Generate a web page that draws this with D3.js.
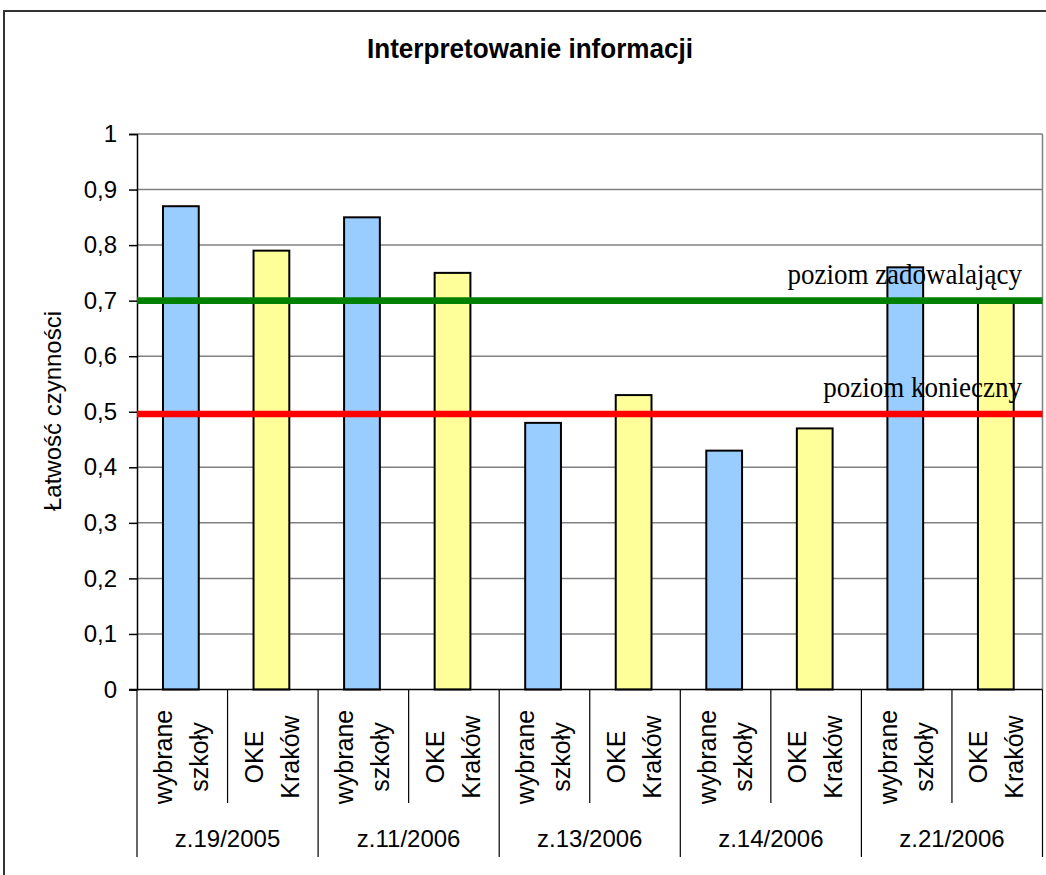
<!DOCTYPE html>
<html>
<head>
<meta charset="utf-8">
<script src="https://cdn.jsdelivr.net/npm/d3@7"></script>
<style>
  html, body { margin: 0; padding: 0; background: #ffffff; }
  svg { display: block; }
</style>
</head>
<body>
<div id="chart"></div>
<script>
// Test groups and the two compared populations
const groups = ["z.19/2005", "z.11/2006", "z.13/2006", "z.14/2006", "z.21/2006"];
const seriesLabels = [["wybrane", "szkoły"], ["OKE", "Kraków"]];
const wybraneSzkoly = [0.87, 0.85, 0.48, 0.43, 0.76];
const okeKrakow = [0.79, 0.75, 0.53, 0.47, 0.70];

// Reference levels
const levelNames = ["poziom zadowalający", "poziom konieczny"];
const levelValues = [0.7, 0.496];
const levelColors = ["#008000", "#ff0000"];

// Value axis
const yTicks = [0, 0.1, 0.2, 0.3, 0.4, 0.5, 0.6, 0.7, 0.8, 0.9, 1];
const yTickLabels = ["0", "0,1", "0,2", "0,3", "0,4", "0,5", "0,6", "0,7", "0,8", "0,9", "1"];

const title = "Interpretowanie informacji";
const yTitle = "Łatwość czynności";

const W = 1046, H = 875;
const plot = { left: 137, right: 1042.5, top: 134, bottom: 689.5 };

const svg = d3.select("#chart").append("svg")
  .attr("width", W).attr("height", H)
  .attr("font-family", "Arial, 'Liberation Sans', sans-serif");

// chart frame
svg.append("rect")
  .attr("x", 4).attr("y", 11).attr("width", 1200).attr("height", 1000)
  .attr("fill", "#fff").attr("stroke", "#333").attr("stroke-width", 2);

// one slot per bar: group × series
const slots = [];
groups.forEach((g, gi) => {
  slots.push({ key: g + "|0", group: gi, s: 0, value: wybraneSzkoly[gi] });
  slots.push({ key: g + "|1", group: gi, s: 1, value: okeKrakow[gi] });
});

const x = d3.scaleBand().domain(slots.map(d => d.key)).range([plot.left, plot.right]).padding(0);
const bw = x.bandwidth();
const y = d3.scaleLinear().domain([0, 1]).range([plot.bottom, plot.top]);

// gridlines
svg.append("g").selectAll("line").data(yTicks.slice(1)).join("line")
  .attr("x1", plot.left).attr("x2", plot.right)
  .attr("y1", d => y(d)).attr("y2", d => y(d))
  .attr("stroke", "#808080").attr("stroke-width", 1.5);

// right border of plot area
svg.append("line")
  .attr("x1", plot.right).attr("x2", plot.right)
  .attr("y1", plot.top).attr("y2", plot.bottom)
  .attr("stroke", "#808080").attr("stroke-width", 1.5);

// bars
svg.append("g").selectAll("rect").data(slots).join("rect")
  .attr("x", d => x(d.key) + bw * 0.287)
  .attr("width", bw * 0.395)
  .attr("y", d => y(d.value))
  .attr("height", d => y(0) - y(d.value))
  .attr("fill", d => d.s === 0 ? "#99ccff" : "#ffff99")
  .attr("stroke", "#000").attr("stroke-width", 2);

// y axis
const yAxis = d3.axisLeft(y).tickValues(yTicks)
  .tickFormat((d, i) => yTickLabels[i]).tickSize(8).tickPadding(12);
const ga = svg.append("g").attr("transform", `translate(${plot.left},0)`).call(yAxis);
ga.select(".domain").attr("stroke", "#000").attr("stroke-width", 1.5);
ga.selectAll(".tick line").attr("stroke", "#000").attr("stroke-width", 1.5);
ga.selectAll(".tick text").attr("font-size", 24).attr("fill", "#000")
  .attr("font-family", "Arial, 'Liberation Sans', sans-serif");

// x axis baseline
svg.append("line")
  .attr("x1", plot.left - 8).attr("x2", plot.right)
  .attr("y1", plot.bottom).attr("y2", plot.bottom)
  .attr("stroke", "#000").attr("stroke-width", 1.5);

// separators: short ones between series, long ones between groups
const sepG = svg.append("g");
slots.forEach((d, i) => {
  const xs = x(d.key);
  sepG.append("line")
    .attr("x1", xs).attr("x2", xs)
    .attr("y1", plot.bottom).attr("y2", d.s === 0 ? 857 : 803)
    .attr("stroke", "#000").attr("stroke-width", 1.2);
});
sepG.append("line")
  .attr("x1", plot.right).attr("x2", plot.right)
  .attr("y1", plot.bottom).attr("y2", 857)
  .attr("stroke", "#000").attr("stroke-width", 1.2);

// series labels, rotated, two lines each
const lab = svg.append("g").selectAll("g").data(slots).join("g");
lab.each(function (d) {
  const c = x(d.key) + bw / 2;
  const lines = seriesLabels[d.s];
  const offs = [-10, 26];
  lines.forEach((t, li) => {
    d3.select(this).append("text")
      .attr("transform", `translate(${c + offs[li]},757) rotate(-90) scale(1,1.06)`)
      .attr("text-anchor", "middle")
      .attr("font-size", 25).attr("fill", "#000")
      .text(t);
  });
});

// group labels
svg.append("g").selectAll("text").data(groups).join("text")
  .attr("x", (g, gi) => x(g + "|0") + bw)
  .attr("y", 847)
  .attr("text-anchor", "middle")
  .attr("font-size", 24).attr("fill", "#000")
  .text(d => d);

// reference level lines with captions
levelValues.forEach((v, i) => {
  svg.append("line")
    .attr("x1", plot.left).attr("x2", plot.right)
    .attr("y1", y(v)).attr("y2", y(v))
    .attr("stroke", levelColors[i]).attr("stroke-width", 6.6);
  svg.append("text")
    .attr("transform", `translate(1022,${y(v) - 17}) scale(1,1.06)`)
    .attr("text-anchor", "end")
    .attr("font-family", "'Liberation Serif', 'Times New Roman', serif")
    .attr("font-size", 27).attr("fill", "#000")
    .text(levelNames[i]);
});

// title
svg.append("text")
  .attr("x", 530).attr("y", 58)
  .attr("text-anchor", "middle")
  .attr("font-size", 27).attr("font-weight", "bold").attr("fill", "#000")
  .attr("textLength", 326).attr("lengthAdjust", "spacingAndGlyphs")
  .text(title);

// value axis title
svg.append("text")
  .attr("transform", `translate(61,411) rotate(-90)`)
  .attr("text-anchor", "middle")
  .attr("font-size", 24).attr("fill", "#000")
  .text(yTitle);
</script>
</body>
</html>
